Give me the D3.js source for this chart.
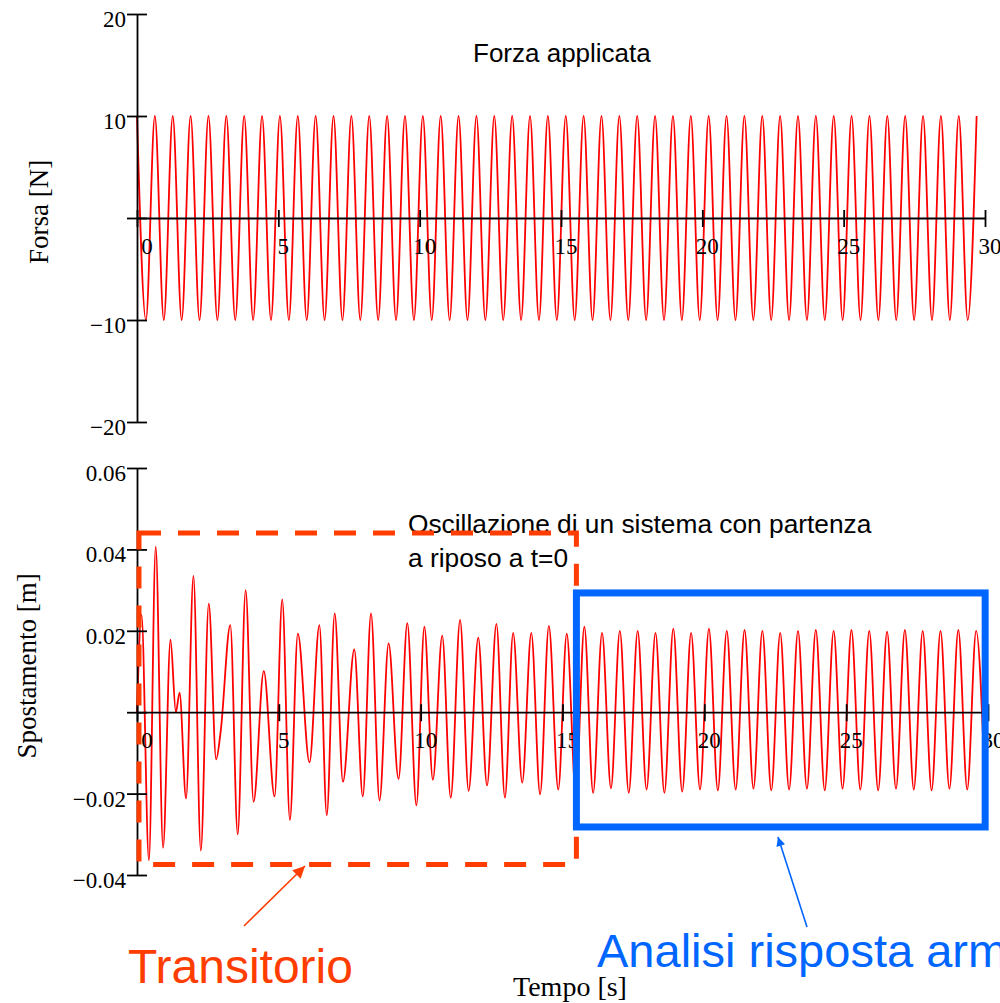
<!DOCTYPE html>
<html>
<head>
<meta charset="utf-8">
<script src="https://cdn.jsdelivr.net/npm/d3@7"></script>
<style>
  body { margin: 0; background: #fff; }
  svg { display: block; }
</style>
</head>
<body>
<svg id="chart" width="1000" height="1003"></svg>
<script>
// shared time axis [s]
const timeTicks = [0, 5, 10, 15, 20, 25, 30];

// force panel [N]
const forceTicks = [-20, -10, 0, 10, 20];
const forceHalfPeriod = 0.316;
const forceExtremes = [
  10, -10, 10, -10, 10, -10, 10, -10, 10, -10,
  10, -10, 10, -10, 10, -10, 10, -10, 10, -10,
  10, -10, 10, -10, 10, -10, 10, -10, 10, -10,
  10, -10, 10, -10, 10, -10, 10, -10, 10, -10,
  10, -10, 10, -10, 10, -10, 10, -10, 10, -10,
  10, -10, 10, -10, 10, -10, 10, -10, 10, -10,
  10, -10, 10, -10, 10, -10, 10, -10, 10, -10,
  10, -10, 10, -10, 10, -10, 10, -10, 10, -10,
  10, -10, 10, -10, 10, -10, 10, -10, 10, -10,
  10, -10, 10, -10, 10
];

// displacement panel [m]
const dispTicks = [-0.04, -0.02, 0, 0.02, 0.04, 0.06];
// transient: extremes (t, x)
const transientTimes = [
  0, 0.16, 0.42, 0.66, 0.92, 1.18, 1.37, 1.50, 1.73, 1.99,
  2.25, 2.53, 2.79, 2.95, 3.29, 3.55, 3.83, 4.11, 4.47, 4.85,
  5.12, 5.39, 5.67, 6.08, 6.43, 6.69, 6.97, 7.26, 7.66, 7.96,
  8.25, 8.55, 8.87, 9.22, 9.53, 9.85, 10.13, 10.43, 10.76, 11.06,
  11.39, 11.69, 12.03, 12.34, 12.67, 12.97, 13.26, 13.58, 13.90, 14.21,
  14.52, 14.85, 15.15, 15.47, 15.77
];
const transientValues = [
  0, 0.0239, -0.0364, 0.0407, -0.0333, 0.0178, 0.0, 0.0048, -0.0212, 0.0335,
  -0.0340, 0.0267, -0.0116, -0.0047, 0.0214, -0.0300, 0.0300, -0.0220, 0.0101, -0.0207,
  0.0277, -0.0265, 0.0193, -0.0123, 0.0214, -0.0253, 0.0243, -0.0171, 0.0154, -0.0207,
  0.0243, -0.0217, 0.0169, -0.0164, 0.0219, -0.0229, 0.0210, -0.0166, 0.0188, -0.0210,
  0.0227, -0.0193, 0.0183, -0.0180, 0.0217, -0.0210, 0.0195, -0.0173, 0.0195, -0.0202,
  0.0212, -0.0190, 0.0193, -0.0200, 0.0210
];
// steady state: extremes every half period from steadyStart
const steadyStart = 16.08;
const steadyHalfPeriod = 0.314;
const steadyValues = [
  -0.0198, 0.0195, -0.0187, 0.0200, -0.0198, 0.0200, -0.0190, 0.0195, -0.0198, 0.0205,
  -0.0195, 0.0195, -0.0190, 0.0205, -0.0192, 0.0200, -0.0190, 0.0202, -0.0188, 0.0200,
  -0.0192, 0.0195, -0.0190, 0.0200, -0.0188, 0.0202, -0.0192, 0.0200, -0.0188, 0.0202,
  -0.0190, 0.0200, -0.0192, 0.0198, -0.0188, 0.0202, -0.0190, 0.0200, -0.0192, 0.0200,
  -0.0188, 0.0202, -0.0190, 0.0200, -0.0192
];

const serif = '"Liberation Serif", "Times New Roman", serif';
const sans = '"Liberation Sans", Arial, sans-serif';
const orange = '#ff3d00';
const blue = '#0066ff';

const forceData = forceExtremes.map((v, i) => ({ t: i * forceHalfPeriod, v }));
const dispData = transientTimes.map((t, i) => ({ t, v: transientValues[i] }))
  .concat(steadyValues.map((v, i) => ({ t: steadyStart + i * steadyHalfPeriod, v })));

const svg = d3.select('#chart');
svg.append('rect').attr('width', 1000).attr('height', 1003).attr('fill', '#fff');

const xTop = d3.scaleLinear().domain([0, 30]).range([137, 985]);
const yTop = d3.scaleLinear().domain([-20, 20]).range([422, 14]);
const xBot = d3.scaleLinear().domain([0, 30]).range([137, 988]);
const yBot = d3.scaleLinear().domain([-0.04, 0.06]).range([875, 468]);

function tickLabel(sel, str) {
  // Mathcad style: minus sign raised to the top of the digits
  if (str.startsWith('-')) {
    sel.append('tspan').text('\u2212').attr('dy', -9);
    sel.append('tspan').text(str.slice(1)).attr('dy', 9);
  } else {
    sel.text(str);
  }
}

function drawPanel(x, y, yTicks, fmt, data) {
  const g = svg.append('g');

  const line = d3.line()
    .x(d => x(d.t))
    .y(d => y(d.v))
    .curve(d3.curveMonotoneX);
  g.append('path')
    .datum(data)
    .attr('fill', 'none')
    .attr('stroke', '#ff0000')
    .attr('stroke-width', 1.8)
    .attr('d', line);

  // y axis with ticks crossing the line
  const yAxis = g.append('g')
    .attr('transform', `translate(${x(0)},0)`)
    .call(d3.axisLeft(y).tickValues(yTicks).tickSize(10).tickSizeOuter(0).tickFormat(''));
  yAxis.selectAll('.tick line').attr('x1', 10);

  // x axis at y = 0
  const xAxis = g.append('g')
    .attr('transform', `translate(0,${y(0)})`)
    .call(d3.axisBottom(x).tickValues(timeTicks).tickSize(9).tickSizeOuter(0).tickFormat(''));
  xAxis.selectAll('.tick line').attr('y1', -8);

  g.selectAll('.domain, .tick line').attr('stroke', '#000').attr('stroke-width', 1.8);

  yTicks.filter(v => v !== 0).forEach(v => {
    const t = g.append('text')
      .attr('x', x(0) - 11)
      .attr('y', y(v) + 13)
      .attr('text-anchor', 'end')
      .attr('font-family', serif)
      .attr('font-size', 23)
      ;
    tickLabel(t, fmt(v));
  });

  timeTicks.forEach(v => {
    g.append('text')
      .attr('x', x(v) + (v === 0 ? 10 : 5))
      .attr('y', y(0) + 36)
      .attr('text-anchor', 'middle')
      .attr('font-family', serif)
      .attr('font-size', 23)
      .text(v);
  });
}

drawPanel(xTop, yTop, forceTicks, d3.format('d'), forceData);
drawPanel(xBot, yBot, dispTicks, d3.format('.2f'), dispData);

// axis titles
svg.append('text')
  .attr('transform', 'translate(48,212) rotate(-90)')
  .attr('text-anchor', 'middle')
  .attr('font-family', serif)
  .attr('font-size', 27)
  .text('Forsa [N]');
svg.append('text')
  .attr('transform', 'translate(36,666) rotate(-90)')
  .attr('text-anchor', 'middle')
  .attr('font-family', serif)
  .attr('font-size', 27)
  .text('Spostamento [m]');
svg.append('text')
  .attr('x', 570)
  .attr('y', 996)
  .attr('text-anchor', 'middle')
  .attr('font-family', serif)
  .attr('font-size', 28)
  .text('Tempo [s]');

// panel captions
svg.append('text')
  .attr('x', 473).attr('y', 62)
  .attr('font-family', sans).attr('font-size', 26)
  .text('Forza applicata');
svg.append('text')
  .attr('x', 408).attr('y', 533)
  .attr('font-family', sans).attr('font-size', 26.3)
  .text('Oscillazione di un sistema con partenza');
svg.append('text')
  .attr('x', 408).attr('y', 567)
  .attr('font-family', sans).attr('font-size', 26.3)
  .text('a riposo a t=0');

// annotation boxes (in data units of the lower panel)
const transientBox = { t0: 0.07, t1: 15.49, v0: -0.0374, v1: 0.0440 };
const steadyBox = { t0: 15.49, t1: 29.9, v0: -0.0282, v1: 0.0293 };

svg.append('rect')
  .attr('x', xBot(transientBox.t0))
  .attr('y', yBot(transientBox.v1))
  .attr('width', xBot(transientBox.t1) - xBot(transientBox.t0))
  .attr('height', yBot(transientBox.v0) - yBot(transientBox.v1))
  .attr('fill', 'none')
  .attr('stroke', orange)
  .attr('stroke-width', 5)
  .attr('stroke-dasharray', '22,17');

svg.append('rect')
  .attr('x', xBot(steadyBox.t0))
  .attr('y', yBot(steadyBox.v1))
  .attr('width', xBot(steadyBox.t1) - xBot(steadyBox.t0))
  .attr('height', yBot(steadyBox.v0) - yBot(steadyBox.v1))
  .attr('fill', 'none')
  .attr('stroke', blue)
  .attr('stroke-width', 7);

// arrows
const defs = svg.append('defs');
function arrowHead(id, color, len, wid) {
  defs.append('marker')
    .attr('id', id)
    .attr('markerUnits', 'userSpaceOnUse')
    .attr('viewBox', '0 0 10 10')
    .attr('refX', 10).attr('refY', 5)
    .attr('markerWidth', len).attr('markerHeight', wid)
    .attr('orient', 'auto')
    .append('path')
    .attr('d', 'M0,0L10,5L0,10z')
    .attr('fill', color);
}
arrowHead('arrow-orange', orange, 16, 12);
arrowHead('arrow-blue', blue, 13, 9);

svg.append('line')
  .attr('x1', 244).attr('y1', 926).attr('x2', 305).attr('y2', 866)
  .attr('stroke', orange).attr('stroke-width', 1.6)
  .attr('marker-end', 'url(#arrow-orange)');
svg.append('line')
  .attr('x1', 807).attr('y1', 927).attr('x2', 778).attr('y2', 837)
  .attr('stroke', blue).attr('stroke-width', 1.6)
  .attr('marker-end', 'url(#arrow-blue)');

svg.append('text')
  .attr('x', 128).attr('y', 983)
  .attr('font-family', sans).attr('font-size', 48)
  .attr('fill', orange)
  .text('Transitorio');
svg.append('text')
  .attr('x', 597).attr('y', 967)
  .attr('font-family', sans).attr('font-size', 47)
  .attr('fill', blue)
  .text('Analisi risposta armonica');
</script>
</body>
</html>
